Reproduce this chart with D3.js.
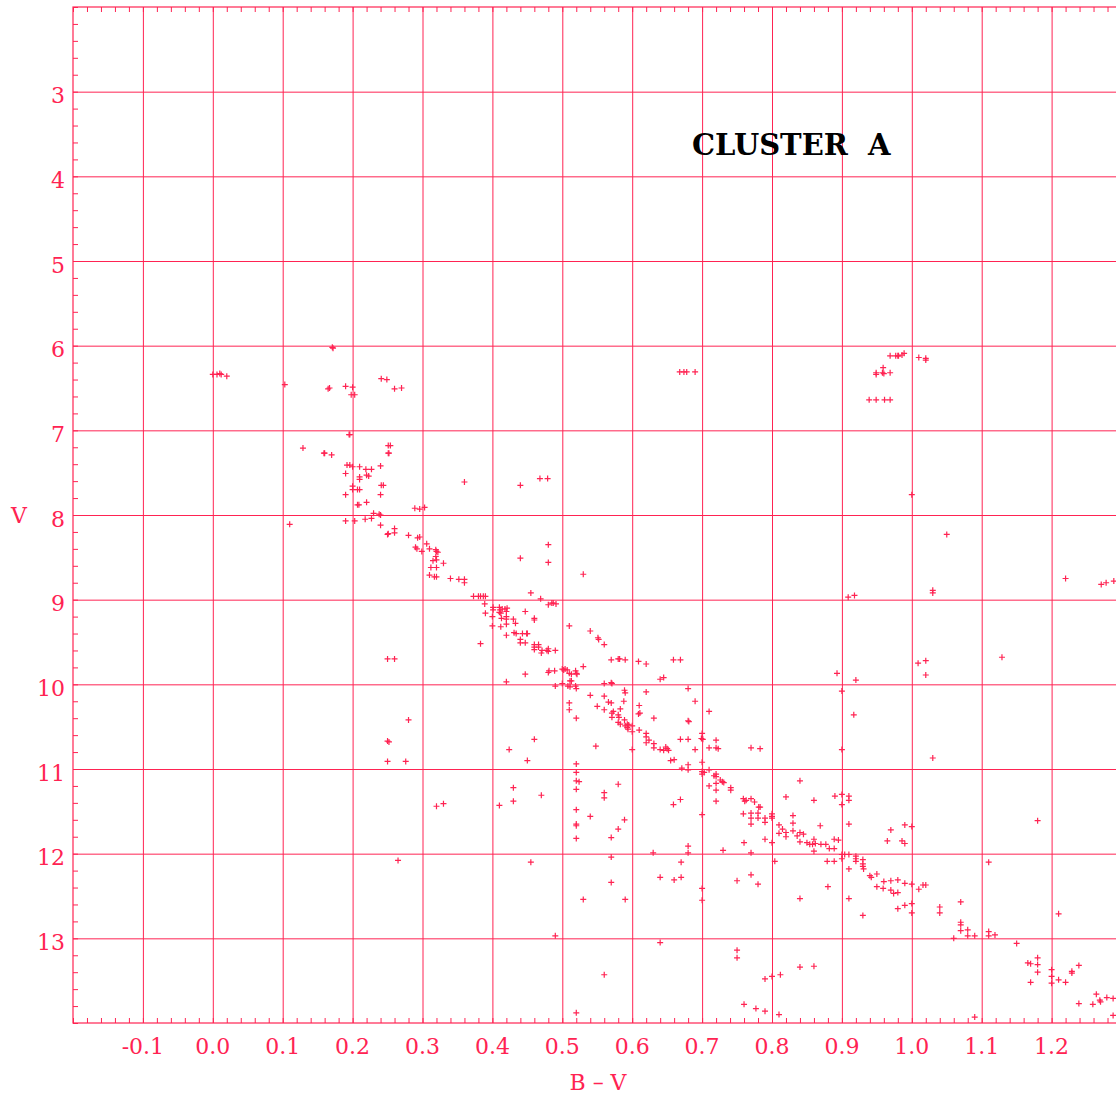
<!DOCTYPE html>
<html>
<head>
<meta charset="utf-8">
<script src="https://cdn.jsdelivr.net/npm/d3@7/dist/d3.min.js"></script>
<style>
  html, body { margin: 0; padding: 0; background: #ffffff; }
  svg { display: block; }
</style>
</head>
<body>
<svg id="chart" width="1116" height="1097"></svg>
<script>
// ---------------- DATA ----------------
const xTickValues = [-0.1, 0.0, 0.1, 0.2, 0.3, 0.4, 0.5, 0.6, 0.7, 0.8, 0.9, 1.0, 1.1, 1.2];
const xTickLabels = ["-0.1", "0.0", "0.1", "0.2", "0.3", "0.4", "0.5", "0.6", "0.7", "0.8", "0.9", "1.0", "1.1", "1.2"];
const yTickValues = [3, 4, 5, 6, 7, 8, 9, 10, 11, 12, 13];
const yTickLabels = ["3", "4", "5", "6", "7", "8", "9", "10", "11", "12", "13"];
const xLabel = "B \u2013 V";
const yLabel = "V";
const title = "CLUSTER  A";

// stars as [B-V, V]
const brightStars = [
  [0.000,6.34],[0.006,6.34],[0.010,6.33],[0.012,6.34],[0.020,6.36],
  [0.103,6.46],[0.171,6.02],[0.172,6.03],[0.165,6.51],[0.167,6.50],[0.190,6.48],[0.200,6.49],
  [0.198,6.58],[0.203,6.58],[0.241,6.39],[0.249,6.40],[0.260,6.51],[0.270,6.50],
  [0.668,6.31],[0.674,6.31],[0.678,6.31],[0.690,6.31],
  [0.969,6.12],[0.977,6.12],[0.980,6.12],[0.981,6.12],[0.986,6.11],[0.989,6.09],[1.010,6.14],
  [1.020,6.15],[1.020,6.17],[0.959,6.26],[0.949,6.32],[0.949,6.34],[0.958,6.32],[0.960,6.33],
  [0.969,6.32],[0.939,6.64],[0.949,6.64],[0.961,6.64],[0.969,6.64]
];

const upperSequence = [
  [0.195,7.05],[0.196,7.05],[0.129,7.21],[0.159,7.27],[0.160,7.27],[0.170,7.29],[0.251,7.18],
  [0.254,7.18],[0.251,7.27],[0.252,7.27],[0.192,7.41],[0.196,7.41],[0.200,7.43],[0.210,7.43],
  [0.219,7.46],[0.227,7.46],[0.240,7.42],[0.190,7.51],[0.210,7.55],[0.210,7.58],[0.220,7.53],
  [0.223,7.54],[0.200,7.66],[0.200,7.70],[0.207,7.70],[0.210,7.70],[0.241,7.65],[0.244,7.65],
  [0.240,7.76],[0.190,7.76],[0.207,7.88],[0.209,7.88],[0.220,7.85],[0.289,7.92],[0.296,7.93],
  [0.303,7.91],[0.230,7.98],[0.238,7.99],[0.240,8.00],[0.190,8.07],[0.203,8.07],[0.218,8.05],
  [0.227,8.04],[0.240,8.12],[0.110,8.11],[0.260,8.16],[0.260,8.21],[0.250,8.23],[0.251,8.22],
  [0.280,8.24],[0.293,8.27],[0.296,8.26],[0.306,8.34],[0.290,8.38],[0.292,8.40],[0.299,8.43],
  [0.310,8.40],[0.319,8.41],[0.322,8.44],[0.320,8.43],[0.319,8.49],[0.320,8.53],[0.315,8.54],
  [0.330,8.57],[0.312,8.62],[0.320,8.62],[0.310,8.71],[0.317,8.73],[0.320,8.73],
  [0.340,8.75],[0.352,8.76],[0.360,8.76],[0.360,8.80],[0.373,8.96],[0.380,8.96],[0.383,8.96],
  [0.387,8.96],[0.390,8.96]
];

const brightField = [
  [0.360,7.61],[0.440,7.65],[0.468,7.57],[0.479,7.57],[0.440,8.51],[0.480,8.35],[0.480,8.56],
  [0.530,8.70],[0.455,8.92],[0.469,8.99],[0.487,9.04],[0.491,9.05],[0.485,9.04],[0.480,9.06],
  [1.000,7.76],[1.050,8.23],[1.030,8.89],[1.030,8.92],[0.909,8.97],[0.918,8.95],[1.220,8.75],
  [1.271,8.82],[1.278,8.80],[1.289,8.78]
];

const middleSequence = [
  [0.389,9.05],[0.390,9.16],[0.401,9.09],[0.401,9.12],[0.410,9.09],[0.411,9.12],[0.414,9.11],
  [0.418,9.11],[0.421,9.10],[0.420,9.14],[0.410,9.15],[0.412,9.16],[0.400,9.20],[0.413,9.22],
  [0.420,9.20],[0.420,9.23],[0.430,9.23],[0.447,9.14],[0.400,9.31],[0.412,9.32],[0.420,9.29],
  [0.433,9.28],[0.420,9.42],[0.431,9.39],[0.434,9.40],[0.443,9.40],[0.449,9.40],[0.450,9.40],
  [0.440,9.47],[0.440,9.51],[0.447,9.51],[0.383,9.52],[0.447,9.88],
  [0.460,9.22],[0.460,9.24],[0.510,9.31],[0.540,9.37],[0.551,9.45],[0.552,9.47],[0.560,9.53],
  [0.460,9.53],[0.460,9.56],[0.466,9.53],[0.466,9.56],[0.460,9.59],[0.470,9.63],[0.471,9.60],
  [0.480,9.58],[0.480,9.61],[0.478,9.60],[0.490,9.60],
  [0.570,9.71],[0.580,9.70],[0.582,9.70],[0.590,9.71],[0.609,9.73],[0.620,9.76],[0.659,9.71],
  [0.669,9.71],[0.530,9.79],
  [0.480,9.86],[0.481,9.84],[0.489,9.84],[0.500,9.82],[0.502,9.83],[0.504,9.82],[0.507,9.83],
  [0.510,9.87],[0.513,9.88],[0.519,9.84],[0.520,9.87],[0.521,9.88],
  [0.420,9.97],[0.511,9.96],[0.513,9.96],[0.500,9.99],[0.508,10.02],[0.511,10.03],[0.519,10.02],
  [0.520,10.05],[0.490,10.02],[0.560,9.99],[0.570,9.98],[0.571,9.99],[0.640,9.94],[0.645,9.92],
  [0.680,10.05],[0.690,10.20],[0.540,10.13],[0.560,10.14],[0.566,10.21],[0.570,10.22],
  [0.589,10.07],[0.590,10.10],[0.588,10.20],[0.620,10.09],[0.510,10.22],[0.510,10.30],
  [0.550,10.26],[0.560,10.30],[0.573,10.32],[0.571,10.34],[0.583,10.29],[0.571,10.39],
  [0.580,10.36],[0.581,10.39],[0.580,10.45],[0.583,10.47],[0.589,10.42],[0.593,10.47],
  [0.590,10.49],[0.593,10.51],[0.595,10.48],[0.600,10.49],[0.594,10.53],[0.600,10.56],
  [0.610,10.25],[0.609,10.35],[0.611,10.34],[0.631,10.40],[0.680,10.43],[0.681,10.44],
  [0.520,10.40],[0.610,10.54],[0.620,10.58],[0.620,10.62],[0.624,10.66],[0.620,10.69],
  [0.631,10.70],[0.631,10.75],[0.640,10.77],[0.645,10.78],[0.648,10.74],[0.650,10.76],
  [0.652,10.78],[0.669,10.65],[0.680,10.65],[0.690,10.77],[0.655,10.90],[0.660,10.89],
  [0.671,10.99],[0.680,10.95],[0.680,11.01],[0.600,10.77],[0.548,10.73],[0.460,10.65],
  [0.424,10.77],[0.450,10.90],
  [0.710,10.32],[0.700,10.58],[0.699,10.64],[0.701,10.65],[0.720,10.66],[0.710,10.75],
  [0.720,10.75],[0.723,10.76],[0.770,10.75],[0.783,10.76],
  [0.893,9.87],[0.920,9.95],[0.900,10.08],[1.009,9.75],[1.020,9.72],[1.020,9.89],[1.129,9.68],
  [0.917,10.36],[1.030,10.87],[0.900,10.77],
  [0.280,10.42],[0.276,10.91],[0.250,9.70],[0.260,9.70],[0.250,10.67],[0.252,10.68],[0.250,10.91]
];

const lowerSequence = [
  [0.700,10.92],[0.700,11.03],[0.703,11.04],[0.700,11.06],[0.710,11.01],[0.717,11.08],
  [0.720,11.06],[0.720,11.09],[0.726,11.13],[0.729,11.15],[0.731,11.16],[0.710,11.20],
  [0.720,11.17],[0.720,11.25],[0.741,11.22],[0.741,11.25],[0.720,11.38],
  [0.659,11.42],[0.669,11.36],[0.700,11.54],
  [0.759,11.35],[0.761,11.38],[0.763,11.37],[0.770,11.35],[0.775,11.39],[0.781,11.45],
  [0.783,11.45],[0.759,11.53],[0.770,11.52],[0.770,11.58],[0.780,11.52],[0.780,11.58],
  [0.770,11.65],[0.790,11.58],[0.790,11.63],[0.800,11.53],[0.800,11.56],[0.800,11.58],
  [0.820,11.33],[0.840,11.14],[0.860,11.37],[0.830,11.55],[0.830,11.64],
  [0.810,11.66],[0.815,11.71],[0.810,11.76],[0.820,11.75],[0.820,11.80],[0.830,11.73],
  [0.836,11.79],[0.840,11.75],[0.840,11.86],[0.845,11.77],[0.850,11.87],[0.854,11.89],
  [0.858,11.89],[0.860,11.83],[0.860,11.97],[0.862,11.88],[0.870,11.89],[0.869,11.67],
  [0.877,11.89],[0.882,11.94],[0.889,11.94],[0.889,11.83],[0.895,11.84],[0.879,12.09],
  [0.889,12.09],
  [0.900,12.01],[0.900,12.06],[0.904,12.01],[0.910,12.01],[0.920,12.03],[0.920,12.06],
  [0.920,12.09],[0.930,12.07],[0.930,12.12],[0.930,12.15],[0.931,12.18],[0.910,12.18],
  [0.940,12.26],[0.942,12.28],[0.950,12.24],[0.950,12.39],[0.960,12.33],[0.970,12.32],
  [0.980,12.31],[0.990,12.35],[0.959,12.41],[0.970,12.43],[0.974,12.47],[0.980,12.46],
  [1.000,12.36],[1.010,12.42],[1.016,12.37],[1.020,12.37],
  [0.965,11.85],[0.970,11.72],[0.986,11.85],[0.990,11.88],[0.990,11.66],[1.000,11.68],
  [0.910,11.32],[0.910,11.37],[0.900,11.30],[0.900,11.42],[0.890,11.32],[0.910,11.65],
  [0.700,12.41],[0.680,11.91],[0.680,11.99],[0.670,12.10],[0.630,11.99],[0.640,12.28],
  [0.660,12.31],[0.670,12.28],[0.730,11.96],[0.760,11.87],[0.770,11.99],[0.790,11.83],
  [0.800,11.87],[0.804,12.09],[0.750,12.32],[0.770,12.25],[0.780,12.36],[0.880,12.39],
  [0.840,12.53],[0.910,12.53],
  [1.000,12.59],[1.000,12.70],[0.990,12.61],[0.980,12.65],[0.930,12.73],[1.040,12.63],
  [1.040,12.70],[1.070,12.57],[1.070,12.81],[1.070,12.84],[1.070,12.91],[1.080,12.90],
  [1.080,12.97],[1.090,12.97],[1.060,13.00],[1.110,12.92],[1.110,12.97],[1.119,12.96],
  [1.150,13.06],
  [1.166,13.29],[1.170,13.30],[1.180,13.23],[1.180,13.31],[1.180,13.40],[1.170,13.52],
  [1.200,13.37],[1.200,13.45],[1.200,13.53],[1.210,13.49],[1.220,13.52],[1.229,13.39],
  [1.229,13.41],[1.239,13.32],[1.239,13.77],[1.259,13.78],[1.264,13.66],[1.269,13.73],
  [1.270,13.75],[1.279,13.70],[1.288,13.71],[1.288,13.91],[1.090,13.93],
  [1.180,11.61],[1.110,12.10],[1.210,12.71]
];

const faintField = [
  [0.520,10.94],[0.520,11.04],[0.520,11.14],[0.524,11.15],[0.520,11.24],[0.520,11.48],
  [0.520,11.65],[0.520,11.67],[0.520,11.82],[0.430,11.22],[0.430,11.38],[0.470,11.31],
  [0.410,11.43],[0.455,12.10],[0.490,12.97],[0.520,13.88],[0.540,11.56],[0.560,11.28],
  [0.560,11.34],[0.580,11.18],[0.589,11.60],[0.580,11.71],[0.570,11.81],[0.570,12.04],
  [0.570,12.34],[0.530,12.54],[0.590,12.54],[0.560,13.43],[0.640,13.05],[0.700,12.55],
  [0.750,13.14],[0.750,13.23],[0.760,13.78],[0.777,13.83],[0.790,13.86],[0.790,13.48],
  [0.800,13.45],[0.812,13.43],[0.810,13.90],[0.840,13.34],[0.860,13.33],[0.265,12.08],
  [0.320,11.44],[0.330,11.41]
];

// ---------------- DRAWING ----------------
const RED = "#ff2352";
const svg = d3.select("#chart");
const pLeft = 73, pTop = 7, pRight = 1121.5, pBottom = 1023;

const x = d3.scaleLinear().domain([-0.2, 1.3]).range([pLeft, pRight]);
const y = d3.scaleLinear().domain([2, 14]).range([pTop, pBottom]);

const defs = svg.append("defs");
defs.append("clipPath").attr("id", "plotclip")
  .append("rect").attr("x", pLeft).attr("y", pTop).attr("width", pRight - pLeft).attr("height", pBottom - pTop);

// grid lines via axes
const gridX = svg.append("g").attr("transform", `translate(0,${pBottom})`)
  .call(d3.axisBottom(x).tickValues(xTickValues).tickSize(-(pBottom - pTop)).tickFormat(""));
const gridY = svg.append("g").attr("transform", `translate(${pLeft},0)`)
  .call(d3.axisLeft(y).tickValues(yTickValues).tickSize(-(pRight - pLeft)).tickFormat(""));
[gridX, gridY].forEach(g => {
  g.select(".domain").remove();
  g.selectAll(".tick line").attr("stroke", RED).attr("stroke-width", 1);
});

// minor ticks
const xMinor = d3.range(-0.2, 1.3001, 0.02).map(v => +v.toFixed(2));
const yMinor = d3.range(2, 14.001, 0.2).map(v => +v.toFixed(1));
const minorBottom = svg.append("g").attr("transform", `translate(0,${pBottom})`)
  .call(d3.axisTop(x).tickValues(xMinor).tickSize(5).tickFormat(""));
const minorTop = svg.append("g").attr("transform", `translate(0,${pTop})`)
  .call(d3.axisBottom(x).tickValues(xMinor).tickSize(5).tickFormat(""));
const minorLeft = svg.append("g").attr("transform", `translate(${pLeft},0)`)
  .call(d3.axisRight(y).tickValues(yMinor).tickSize(5).tickFormat(""));
[minorBottom, minorTop, minorLeft].forEach(g => {
  g.select(".domain").remove();
  g.selectAll(".tick line").attr("stroke", RED).attr("stroke-width", 1);
});

// frame
svg.append("rect").attr("x", pLeft).attr("y", pTop)
  .attr("width", pRight - pLeft).attr("height", pBottom - pTop)
  .attr("fill", "none").attr("stroke", RED).attr("stroke-width", 1.2);

// tick labels
const fontFam = "'DejaVu Serif', serif";
svg.append("g").selectAll("text").data(xTickValues).join("text")
  .attr("x", d => x(d)).attr("y", 1054)
  .attr("text-anchor", "middle")
  .attr("font-family", fontFam).attr("font-size", 22)
  .attr("fill", RED)
  .text((d, i) => xTickLabels[i]);

svg.append("g").selectAll("text").data(yTickValues).join("text")
  .attr("x", 65).attr("y", d => y(d) + 11.5)
  .attr("text-anchor", "end")
  .attr("font-family", fontFam).attr("font-size", 22)
  .attr("fill", RED)
  .text((d, i) => yTickLabels[i]);

// axis titles
svg.append("text").attr("x", 598).attr("y", 1090)
  .attr("text-anchor", "middle")
  .attr("font-family", fontFam).attr("font-size", 22)
  .attr("fill", RED).style("white-space", "pre").text(xLabel);
svg.append("text").attr("x", 19).attr("y", 523)
  .attr("text-anchor", "middle")
  .attr("font-family", fontFam).attr("font-size", 22)
  .attr("fill", RED).text(yLabel);

// title
svg.append("text").attr("x", 692).attr("y", 155)
  .attr("font-family", fontFam).attr("font-size", 29).attr("font-weight", "bold")
  .attr("fill", "#000").style("white-space", "pre").text(title);

// stars
const allStars = [].concat(brightStars, upperSequence, brightField, middleSequence, lowerSequence, faintField);
svg.append("g").attr("clip-path", "url(#plotclip)")
  .selectAll("path").data(allStars).join("path")
  .attr("transform", d => `translate(${x(d[0])},${y(d[1])})`)
  .attr("d", "M-3,0H3M0,-3V3")
  .attr("stroke", RED).attr("stroke-width", 1.2).attr("fill", "none");
</script>
</body>
</html>
